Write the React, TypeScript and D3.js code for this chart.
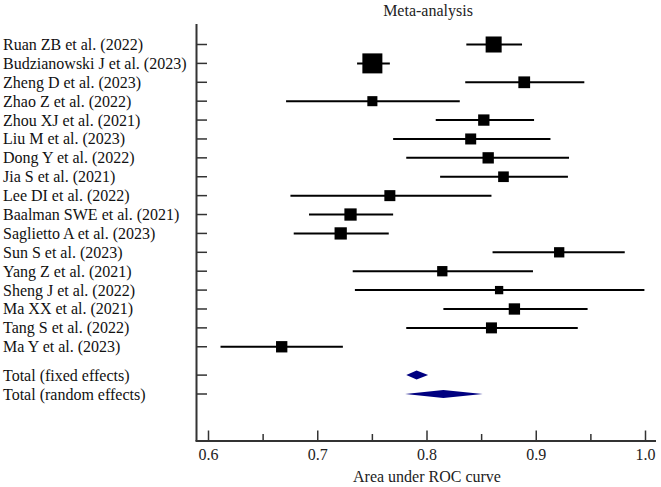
import React from "react";
import * as d3 from "d3";

const studies = [
  "Ruan ZB et al. (2022)",
  "Budzianowski J et al. (2023)",
  "Zheng D et al. (2023)",
  "Zhao Z et al. (2022)",
  "Zhou XJ et al. (2021)",
  "Liu M et al. (2023)",
  "Dong Y et al. (2022)",
  "Jia S et al. (2021)",
  "Lee DI et al. (2022)",
  "Baalman SWE et al. (2021)",
  "Saglietto A et al. (2023)",
  "Sun S et al. (2023)",
  "Yang Z et al. (2021)",
  "Sheng J et al. (2022)",
  "Ma XX et al. (2021)",
  "Tang S et al. (2022)",
  "Ma Y et al. (2023)",
];
const auc = [0.861, 0.75, 0.889, 0.75, 0.852, 0.84, 0.856, 0.87, 0.766, 0.73, 0.721, 0.921, 0.814, 0.866, 0.88, 0.859, 0.667];
const lower = [0.836, 0.736, 0.835, 0.671, 0.808, 0.769, 0.781, 0.812, 0.675, 0.692, 0.678, 0.86, 0.732, 0.734, 0.815, 0.781, 0.611];
const upper = [0.887, 0.766, 0.944, 0.83, 0.898, 0.913, 0.93, 0.929, 0.859, 0.769, 0.765, 0.981, 0.897, 0.999, 0.947, 0.938, 0.723];
const weights = [10.4, 16.2, 5.6, 4.1, 5.2, 4.9, 5.2, 4.6, 4.9, 6.1, 6.1, 4.3, 4.3, 2.8, 5.2, 4.9, 5.2];

const totalLabels = ["Total (fixed effects)", "Total (random effects)"];
const totalAuc = [0.7905, 0.815];
const totalLower = [0.781, 0.78];
const totalUpper = [0.801, 0.851];

const xTicks = [0.6, 0.7, 0.8, 0.9, 1.0];
const xMinorTicks = [0.65, 0.75, 0.85, 0.95];

export default function App() {
  const W = 661, H = 487;
  const x = d3.scaleLinear().domain([0.6, 1.0]).range([208.5, 645.5]);
  const y = d3.scaleLinear().domain([0, 18.5]).range([44.5, 394]);
  const size = d3.scaleSqrt().domain([0, 16.2]).range([0, 20]);
  const axisX = 196.5;
  const axisY = 441;
  const ts = { fontFamily: "'Liberation Serif', 'Times New Roman', serif" };
  const rows = studies.map((s, i) => ({ s, i, v: auc[i], lo: lower[i], hi: upper[i], w: weights[i] }));
  const totals = totalLabels.map((s, j) => ({ s, r: 17.5 + j, v: totalAuc[j], lo: totalLower[j], hi: totalUpper[j] }));
  const dh = [4.5, 4];

  return (
    <svg width={W} height={H} style={{ position: "absolute", left: 0, top: 0, background: "#fff" }}>
      <text x={428} y={16} textAnchor="middle" fontSize={16} fill="#222" style={ts}>Meta-analysis</text>
      <line x1={axisX} x2={axisX} y1={24} y2={axisY} stroke="#333" strokeWidth={2} />
      <line x1={axisX - 1} x2={656} y1={axisY} y2={axisY} stroke="#333" strokeWidth={2} />
      {xTicks.map((t) => (
        <g key={"t" + t}>
          <line x1={x(t)} x2={x(t)} y1={axisY} y2={axisY - 10.5} stroke="#333" strokeWidth={1.5} />
          <text x={x(t)} y={459.5} textAnchor="middle" fontSize={16} fill="#222" style={ts}>{t.toFixed(1)}</text>
        </g>
      ))}
      {xMinorTicks.map((t) => (
        <line key={"m" + t} x1={x(t)} x2={x(t)} y1={axisY} y2={axisY - 7} stroke="#333" strokeWidth={1.5} />
      ))}
      <text x={427} y={482} textAnchor="middle" fontSize={16} fill="#222" style={ts}>Area under ROC curve</text>

      {rows.map((d) => {
        const yy = y(d.i);
        const s = size(d.w);
        return (
          <g key={d.s}>
            <line x1={axisX} x2={axisX + 10.5} y1={yy} y2={yy} stroke="#333" strokeWidth={1.5} />
            <text x={3} y={yy} dominantBaseline="central" fontSize={16} fill="#111" style={ts}>{d.s}</text>
            <line x1={x(d.lo)} x2={x(d.hi)} y1={yy} y2={yy} stroke="#000" strokeWidth={2} />
            <rect x={x(d.v) - s / 2} y={yy - s / 2} width={s} height={s} fill="#000" />
          </g>
        );
      })}
      {totals.map((d, j) => {
        const yy = y(d.r);
        const h = dh[j];
        const path = d3.line()([
          [x(d.lo), yy],
          [x(d.v), yy - h],
          [x(d.hi), yy],
          [x(d.v), yy + h],
        ]) + "Z";
        return (
          <g key={d.s}>
            <line x1={axisX} x2={axisX + 10.5} y1={yy} y2={yy} stroke="#333" strokeWidth={1.5} />
            <text x={3} y={yy} dominantBaseline="central" fontSize={16} fill="#111" style={ts}>{d.s}</text>
            <path d={path} fill="#000080" />
          </g>
        );
      })}
    </svg>
  );
}
